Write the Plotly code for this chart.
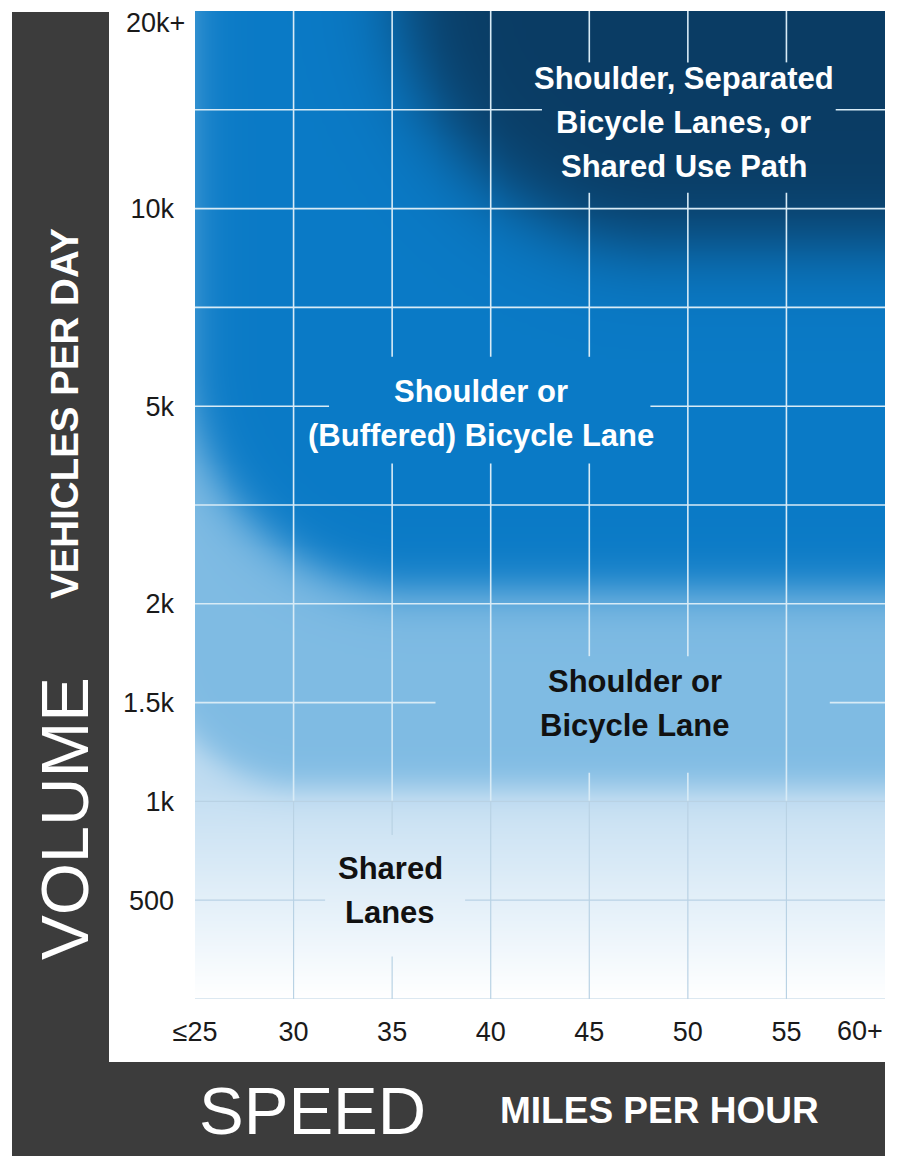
import numpy as np
import plotly.graph_objects as go

# ---------------- data ----------------
speed_ticks = [25, 30, 35, 40, 45, 50, 55, 60]
speed_tick_labels = ["≤25", "30", "35", "40", "45", "50", "55", "60+"]

volume_ticks = [0, 1, 2, 3, 4, 5, 6, 7, 8, 9, 10]
volume_tick_labels = ["", "500", "1k", "1.5k", "2k", "", "5k", "", "10k", "", "20k+"]

zone_names = [
    "Shared Lanes",
    "Shoulder or Bicycle Lane",
    "Shoulder or (Buffered) Bicycle Lane",
    "Shoulder, Separated Bicycle Lanes, or Shared Use Path",
]
# where each zone begins (speed edge, volume edge on the index scale above)
zone_start_speed = [25.0, 22.8, 24.5, 35.4]
zone_start_volume = [0.0, 2.17, 4.14, 7.63]

zone_label_lines = [
    ["Shared", "Lanes"],
    ["Shoulder or", "Bicycle Lane"],
    ["Shoulder or", "(Buffered) Bicycle Lane"],
    ["Shoulder, Separated", "Bicycle Lanes, or", "Shared Use Path"],
]
zone_label_speed = [34.9, 47.3, 39.5, 49.8]
zone_label_volume = [1.1, 2.99, 5.93, 8.87]

# ---------------- style ----------------
OFF = 8                      # page body margin
PAGE_W, PAGE_H = 898, 1156
FIG_W, FIG_H = PAGE_W - OFF, PAGE_H - OFF
PL, PR, PT, PB = 195, 885, 11, 999   # plot box in page pixels
FONT = "Liberation Sans, Arial, sans-serif"
FRAME = "#3c3c3c"
zone_colors = ["#ffffff", "#c2ddf1", "#7fbbe3", "#0a7ac6", "#0a3c64"]
zone_text_colors = ["#111111", "#111111", "#ffffff", "#ffffff"]
zone_corner_px = [0, 150, 230, 265]
zone_blur_px = [0, 9, 13, 22]
LABEL_SIZE = 31
LINE_STEP = 44
TICK_SIZE = 27

# gaps in the grid around the zone labels
label_gaps = [
    dict(h=(31.6, 38.7), v=(0.43, 1.66), vlines=(35,)),
    dict(h=(37.2, 57.2), v=(2.29, 3.47), vlines=(45, 50)),
    dict(h=(31.8, 48.1), v=(5.42, 6.50), vlines=(35, 40, 45)),
    dict(h=(42.6, 57.5), v=(8.16, 9.48), vlines=(45, 50, 55)),
]

s_min, s_max = speed_ticks[0], speed_ticks[-1]
v_min, v_max = volume_ticks[0], volume_ticks[-1]
sx = (PR - PL) / (s_max - s_min)
sy = (PB - PT) / (v_max - v_min)

# ---------------- background field ----------------
xs = np.round(np.arange(s_min, s_max + 1e-6, 0.2), 3)
ys = np.round(np.arange(v_min, v_max + 1e-6, 0.04), 3)
X, Y = np.meshgrid((xs - s_min) * sx, (ys - v_min) * sy)

z = np.clip(Y / (zone_start_volume[1] * sy), 0, 1)
for k in (1, 2, 3):
    xe = (zone_start_speed[k] - s_min) * sx
    ye = (zone_start_volume[k] - v_min) * sy
    r = zone_corner_px[k]
    u = xe + r - X
    v = ye + r - Y
    d = np.where((u > 0) & (v > 0), np.hypot(u, v) - r, np.maximum(u, v) - r)
    t = 1.0 / (1.0 + np.exp(np.clip(d / zone_blur_px[k], -60, 60)))
    z = z * (1 - t) + (k + 1) * t
z = np.round(z, 3)

colorscale = [[i / 4, c] for i, c in enumerate(zone_colors)]

fig = go.Figure()
fig.add_trace(go.Heatmap(
    x=xs, y=ys, z=z, zmin=0, zmax=4, colorscale=colorscale,
    zsmooth="best", showscale=False, hoverinfo="skip",
))


# ---------------- grid ----------------
def cut(a0, a1, gaps):
    segs = [(a0, a1)]
    for g0, g1 in gaps:
        out = []
        for s0, s1 in segs:
            if g1 <= s0 or g0 >= s1:
                out.append((s0, s1))
            else:
                if g0 > s0:
                    out.append((s0, g0))
                if g1 < s1:
                    out.append((g1, s1))
        segs = out
    return segs


def grid_xy(v_lines, v_range, h_lines):
    gx, gy = [], []
    for s in v_lines:
        gaps = [g["v"] for g in label_gaps if s in g["vlines"]]
        for a, b in cut(v_range[0], v_range[1], gaps):
            gx += [s, s, None]
            gy += [a, b, None]
    for L in h_lines:
        gaps = [g["h"] for g in label_gaps if g["v"][0] <= L <= g["v"][1]]
        for a, b in cut(s_min, s_max, gaps):
            gx += [a, b, None]
            gy += [L, L, None]
    return gx, gy


inner_speeds = speed_ticks[1:-1]
ux, uy = grid_xy(inner_speeds, (2, v_max), [L for L in volume_ticks if 3 <= L <= 9])
lx, ly = grid_xy(inner_speeds, (v_min, 2), [L for L in volume_ticks if L <= 2])

fig.add_trace(go.Scatter(x=ux, y=uy, mode="lines", hoverinfo="skip",
                         line=dict(color="#d8ebf6", width=1.6), showlegend=False))
fig.add_trace(go.Scatter(x=lx, y=ly, mode="lines", hoverinfo="skip", cliponaxis=False,
                         line=dict(color="#b9d2e4", width=1.2), showlegend=False))

# ---------------- zone labels ----------------
annotations = []
for lines, s, vol, col in zip(zone_label_lines, zone_label_speed, zone_label_volume, zone_text_colors):
    n = len(lines)
    for i, txt in enumerate(lines):
        annotations.append(dict(
            x=s, y=vol, xref="x", yref="y", text="<b>%s</b>" % txt, showarrow=False,
            xanchor="center", yanchor="middle",
            yshift=-(i - (n - 1) / 2) * LINE_STEP,
            font=dict(family=FONT, size=LABEL_SIZE, color=col),
        ))

# end tick labels that sit inside the plot edges
annotations.append(dict(
    x=speed_ticks[-1], y=v_min, xref="x", yref="y", text=speed_tick_labels[-1],
    showarrow=False, xanchor="right", yanchor="middle", yshift=-32, xshift=0,
    font=dict(family=FONT, size=TICK_SIZE, color="#1a1a1a"),
))
annotations.append(dict(
    x=0, y=volume_ticks[-1], xref="paper", yref="y", text=volume_tick_labels[-1],
    showarrow=False, xanchor="right", yanchor="middle", yshift=-12, xshift=-8,
    font=dict(family=FONT, size=TICK_SIZE, color="#1a1a1a"),
))


def pxx(p):
    return (p - PL) / (PR - PL)


def pxy(p):
    return (PB - p) / (PB - PT)


# frame titles
annotations += [
    dict(x=pxx(64), y=pxy(819), xref="paper", yref="paper", text="VOLUME", textangle=-90,
         showarrow=False, xanchor="center", yanchor="middle",
         font=dict(family=FONT, size=67, color="white")),
    dict(x=pxx(64), y=pxy(414), xref="paper", yref="paper", text="<b>VEHICLES PER DAY</b>",
         textangle=-90, showarrow=False, xanchor="center", yanchor="middle",
         font=dict(family=FONT, size=38.5, color="white")),
    dict(x=pxx(312), y=pxy(1110), xref="paper", yref="paper", text="SPEED",
         showarrow=False, xanchor="center", yanchor="middle",
         font=dict(family=FONT, size=67, color="white")),
    dict(x=pxx(659), y=pxy(1110), xref="paper", yref="paper", text="<b>MILES PER HOUR</b>",
         showarrow=False, xanchor="center", yanchor="middle",
         font=dict(family=FONT, size=37, color="white")),
]

shapes = [
    dict(type="rect", xref="paper", yref="paper", x0=pxx(12), x1=pxx(109),
         y0=pxy(PAGE_H + 5), y1=pxy(12), fillcolor=FRAME, line=dict(width=0), layer="below"),
    dict(type="rect", xref="paper", yref="paper", x0=pxx(12), x1=pxx(885),
         y0=pxy(PAGE_H + 5), y1=pxy(1062), fillcolor=FRAME, line=dict(width=0), layer="below"),
]

fig.update_layout(
    width=FIG_W, height=FIG_H, autosize=False,
    margin=dict(l=PL - OFF, r=FIG_W - (PR - OFF), t=PT - OFF, b=FIG_H - (PB - OFF), pad=0),
    paper_bgcolor="white", plot_bgcolor="white",
    showlegend=False,
    annotations=annotations, shapes=shapes,
    font=dict(family=FONT, color="#1a1a1a"),
    xaxis=dict(range=[s_min, s_max], tickvals=speed_ticks[:-1], ticktext=speed_tick_labels[:-1],
               showgrid=False, zeroline=False, showline=False, ticks="",
               ticklabelstandoff=14, tickfont=dict(size=TICK_SIZE, color="#1a1a1a"), fixedrange=True),
    yaxis=dict(range=[v_min, v_max], tickvals=volume_ticks[:-1], ticktext=volume_tick_labels[:-1],
               showgrid=False, zeroline=False, showline=False, ticks="",
               ticklabelstandoff=20, tickfont=dict(size=TICK_SIZE, color="#1a1a1a"), fixedrange=True),
)

fig.write_html("out.html")
